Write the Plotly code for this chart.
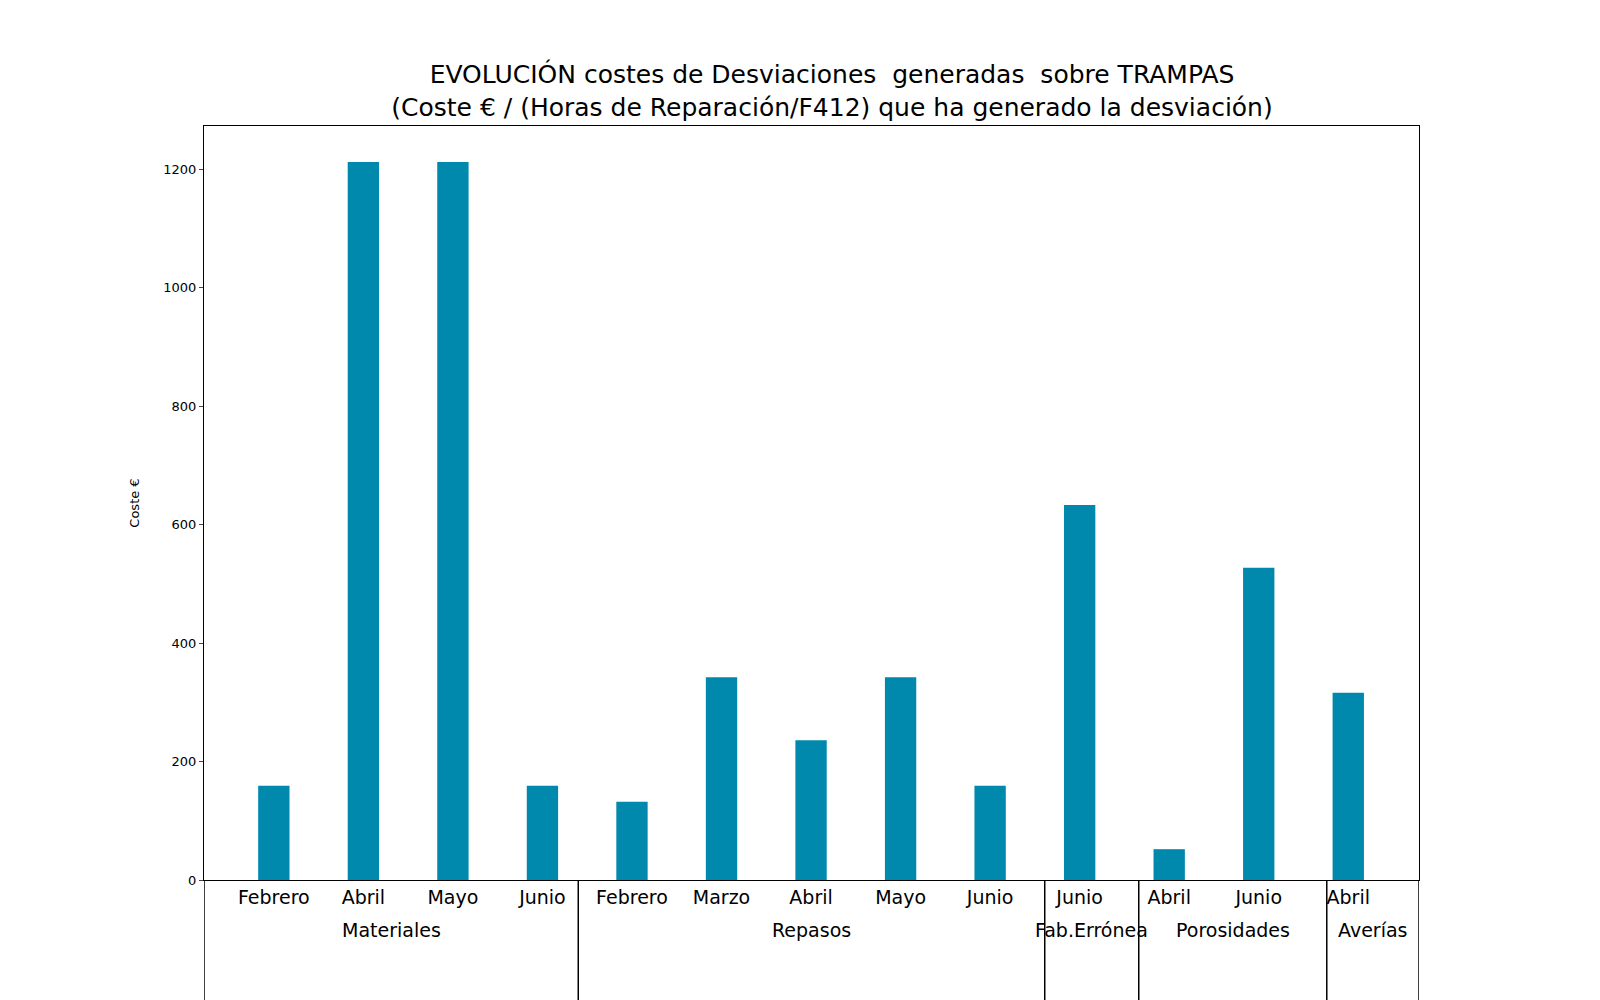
import plotly.graph_objects as go

months = ["Febrero","Abril","Mayo","Junio","Febrero","Marzo","Abril","Mayo","Junio","Junio","Abril","Junio","Abril"]
values = [159, 1212, 1212, 159, 132, 342, 236, 342, 159, 633, 52, 527, 316]
groups = ["Materiales","Repasos","Fab.Errónea","Porosidades","Averías"]
bounds = [-0.78, 3.4, 8.61, 9.66, 11.76, 12.79]

x = list(range(len(values)))
fig = go.Figure(go.Bar(x=x, y=values, width=0.35, marker_color="#0088ad", marker_line_width=0))

shapes = []
for b in bounds:
    shapes.append(dict(type="line", xref="x", yref="paper", x0=b, x1=b, y0=0, y1=-0.2,
                       line=dict(color="black", width=1.5)))
ann = []
for i, g in enumerate(groups):
    ann.append(dict(x=(bounds[i]+bounds[i+1])/2, y=-0.066, xref="x", yref="paper", text=g,
                    showarrow=False, font=dict(size=19, color="black"), yanchor="middle"))

fig.update_layout(
    width=1600, height=1000, plot_bgcolor="white", paper_bgcolor="white",
    margin=dict(l=196, r=189, t=118, b=128),
    font=dict(family="DejaVu Sans", color="black"),
    title=dict(text="EVOLUCIÓN costes de Desviaciones  generadas  sobre TRAMPAS<br>(Coste € / (Horas de Reparación/F412) que ha generado la desviación)",
               x=0.515, xanchor="center", y=0.925, yanchor="middle", font=dict(size=25)),
    shapes=shapes, annotations=ann, showlegend=False,
    xaxis=dict(range=[bounds[0], bounds[-1]], tickmode="array", tickvals=x, ticktext=months,
               ticks="", tickfont=dict(size=19), showgrid=False, zeroline=False,
               showline=True, linecolor="black", mirror=True),
    yaxis=dict(range=[0, 1272.6], tickvals=[0,200,400,800,600,1000,1200], ticks="outside", ticklen=4,
               tickfont=dict(size=13), showgrid=False, zeroline=False, showline=True,
               linecolor="black", mirror=True, title=dict(text="Coste €", font=dict(size=13), standoff=20)),
)
fig.write_html("out.html")
